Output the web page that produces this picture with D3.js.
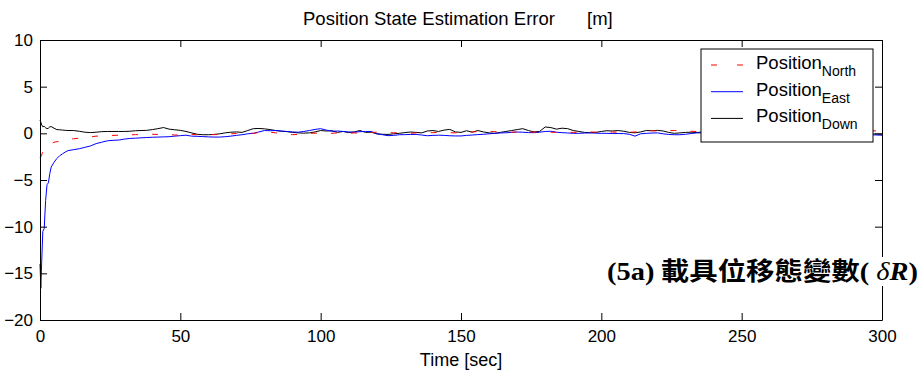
<!DOCTYPE html>
<html><head><meta charset="utf-8">
<script src="https://cdn.jsdelivr.net/npm/d3@7"></script>
<style>
html,body{margin:0;padding:0;background:#fff;}
svg{display:block;}
text{font-family:"Liberation Sans",Arial,sans-serif;fill:#000;}
</style></head><body>
<svg id="chart" width="921" height="376"></svg>
<script>
const timeSec = [0,0.3,0.6,1,1.5,2,2.5,3,3.5,4,5,6,7,8,9,10,
 12,14,16,18,20,22,24,26,28,30,
 32,34,36,38,40,42,44,46,48,50,
 52,54,56,58,60,62,64,66,68,70,
 72,74,76,78,80,82,84,86,88,90,
 92,94,96,98,100,102,104,106,108,110,
 112,114,116,118,120,122,124,126,128,130,
 132,134,136,138,140,142,144,146,148,150,
 152,154,156,158,160,162,164,166,168,170,
 172,174,176,178,180,182,184,186,188,190,
 192,194,196,198,200,202,204,206,208,210,
 212,214,216,218,220,222,224,226,228,230,
 232,234,236,238,240,242,244,246,248,250,
 252,254,256,258,260,262,264,266,268,270,
 272,274,276,278,280,282,284,286,288,290,
 292,294,296,298,300];

const posNorth = [-2.6,-2.5,-2.3,-2.0,-1.8,-1.6,-1.45,-1.3,-1.2,-1.1,-0.95,-0.9,-0.85,-0.8,-0.7,-0.62,
 -0.58,-0.52,-0.45,-0.38,-0.3,-0.28,-0.25,-0.22,-0.2,-0.18,
 -0.16,-0.14,-0.14,-0.12,-0.1,-0.12,-0.14,-0.12,-0.18,-0.2,
 0.05,-0.1,-0.15,-0.14,-0.12,-0.14,-0.12,-0.1,-0.05,-0.02,
 0.0,0.02,0.0,0.08,0.14,0.12,0.05,-0.05,-0.1,-0.14,
 -0.12,-0.05,0.0,0.02,0.0,0.02,0.0,0.05,0.02,0.0,
 0.05,0.0,0.05,0.1,0.12,0.14,0.1,0.05,0.07,0.05,
 0.0,0.05,0.07,0.05,0.07,0.1,0.05,0.07,0.05,0.07,
 0.1,0.15,0.2,0.25,0.2,0.18,0.15,0.14,0.12,0.14,
 0.15,0.14,0.12,0.14,0.1,0.12,0.1,0.14,0.12,0.1,
 0.12,0.14,0.15,0.12,0.1,0.12,0.14,0.12,0.1,0.12,
 0.14,0.2,0.3,0.28,0.25,0.28,0.3,0.3,0.28,0.25,
 0.22,0.2,0.22,0.25,0.2,0.18,0.22,0.25,0.2,0.15,
 0.12,0.15,0.2,0.22,0.18,0.15,0.2,0.25,0.22,0.18,
 0.2,0.25,0.3,0.28,0.25,0.3,0.32,0.35,0.3,0.28,
 0.3,0.35,0.3,0.25,0.2];

const posEast = [-14,-16.6,-13.8,-10.5,-10.2,-7.2,-5.5,-5.3,-4.3,-3.6,-3.1,-2.7,-2.4,-2.2,-2.0,-1.85,
 -1.75,-1.65,-1.5,-1.35,-1.1,-0.95,-0.8,-0.75,-0.72,-0.62,
 -0.55,-0.52,-0.48,-0.45,-0.42,-0.4,-0.38,-0.36,-0.3,-0.25,
 -0.2,-0.3,-0.32,-0.35,-0.38,-0.4,-0.4,-0.36,-0.3,-0.22,
 -0.15,-0.05,0.0,0.15,0.3,0.28,0.3,0.25,0.2,0.15,
 0.12,0.2,0.3,0.42,0.5,0.35,0.22,0.25,0.2,0.15,
 0.12,0.18,0.2,0.2,-0.05,-0.15,-0.25,-0.22,-0.15,-0.14,
 -0.12,-0.12,-0.18,-0.26,-0.22,-0.2,-0.22,-0.26,-0.28,-0.28,
 -0.22,-0.18,-0.14,-0.1,-0.05,0.0,0.04,0.06,0.1,0.14,
 0.12,0.08,0.07,0.12,0.2,0.22,0.12,0.07,0.04,0.0,
 0.0,0.03,0.05,0.02,0.0,0.0,-0.02,-0.02,-0.03,-0.1,
 -0.3,-0.05,0.0,0.03,0.05,-0.05,-0.12,-0.15,-0.15,-0.1,
 -0.02,0.05,0.05,0.0,-0.05,-0.1,-0.08,-0.02,0.02,0.0,
 -0.05,-0.1,-0.12,-0.08,-0.02,0.03,0.0,-0.06,-0.1,-0.08,
 -0.04,0.0,-0.03,-0.08,-0.12,-0.1,-0.05,-0.08,-0.12,-0.14,
 -0.12,-0.1,-0.15,-0.18,-0.2];

const posDown = [1.4,1.2,0.9,0.7,0.75,0.6,0.5,0.55,0.7,0.72,0.55,0.4,0.38,0.35,0.32,0.3,
 0.3,0.22,0.12,0.08,0.12,0.18,0.2,0.2,0.2,0.2,
 0.22,0.28,0.3,0.32,0.4,0.5,0.62,0.45,0.38,0.32,
 0.2,0.05,-0.1,-0.15,-0.15,-0.12,-0.05,0.05,0.12,0.15,
 0.1,0.3,0.5,0.52,0.48,0.4,0.3,0.22,0.18,0.1,
 0.05,0.02,0.05,0.15,0.3,0.25,0.28,0.1,0.2,0.08,
 0.15,0.3,0.1,0.12,-0.05,-0.1,-0.12,-0.05,0.0,0.08,
 0.14,0.1,0.05,0.25,0.3,0.2,0.35,0.42,0.15,0.1,
 0.28,0.12,0.3,0.15,0.05,0.0,0.1,0.2,0.3,0.4,
 0.5,0.3,0.15,0.2,0.68,0.62,0.45,0.55,0.5,0.3,
 0.2,0.1,0.07,0.1,0.2,0.28,0.25,0.3,0.22,0.1,
 0.05,0.15,0.3,0.28,0.32,0.25,0.1,0.0,0.05,0.1,
 0.12,0.08,0.15,0.2,0.1,0.05,0.12,0.18,0.1,0.02,
 0.0,0.08,0.15,0.1,0.05,0.12,0.2,0.15,0.05,0.0,
 0.05,0.1,0.08,0.02,-0.02,0.05,0.1,0.05,0.0,-0.05,
 -0.02,0.0,-0.05,-0.08,-0.1];

const xTicks = [0,50,100,150,200,250,300];
const yTicks = [10,5,0,-5,-10,-15,-20];
const legendMain = "Position";
const legendSubs = ["North","East","Down"];
const titleMain = "Position State Estimation Error";
const titleUnit = "[m]";
const xLabel = "Time [sec]";

const svg = d3.select("#chart");
const pL = 40, pR = 882, pT = 40, pB = 320;
const x = d3.scaleLinear().domain([0,300]).range([pL,pR]);
const y = d3.scaleLinear().domain([-20,10]).range([pB,pT]);

const lineOf = vals => d3.line().x((d,i)=>x(timeSec[i])).y(d=>y(d))(vals);
const series = [
  {vals: posDown, color:"#000000", dash:null},
  {vals: posEast, color:"#0000ff", dash:null},
  {vals: posNorth, color:"#ff0000", dash:"6,14"}
];
const plot = svg.append("g");
series.forEach(s=>{
  plot.append("path").attr("d", lineOf(s.vals)).attr("fill","none")
    .attr("stroke", s.color).attr("stroke-width",1)
    .attr("stroke-dasharray", s.dash);
});

function styleAxis(g){
  g.selectAll("path.domain").attr("stroke","#000").attr("stroke-width",1);
  g.selectAll(".tick line").attr("stroke","#000").attr("stroke-width",1);
  g.selectAll(".tick text").attr("font-family","'Liberation Sans',Arial,sans-serif").attr("font-size",17).attr("fill","#000");
}
svg.append("g").attr("transform",`translate(0,${pB})`)
  .call(d3.axisBottom(x).tickValues(xTicks).tickSizeInner(-7).tickSizeOuter(0).tickPadding(10))
  .call(styleAxis);
svg.append("g").attr("transform",`translate(0,${pT})`)
  .call(d3.axisTop(x).tickValues(xTicks).tickSizeInner(-7).tickSizeOuter(0).tickFormat(""))
  .call(styleAxis);
svg.append("g").attr("transform",`translate(${pL},0)`)
  .call(d3.axisLeft(y).tickValues(yTicks).tickSizeInner(-7).tickSizeOuter(0).tickPadding(7))
  .call(styleAxis);
svg.append("g").attr("transform",`translate(${pR},0)`)
  .call(d3.axisRight(y).tickValues(yTicks).tickSizeInner(-7).tickSizeOuter(0).tickFormat(""))
  .call(styleAxis);

svg.append("text").attr("x",303).attr("y",25).attr("font-size",18.5).text(titleMain);
svg.append("text").attr("x",587).attr("y",25).attr("font-size",18.5).text(titleUnit);
svg.append("text").attr("x",461).attr("y",366).attr("text-anchor","middle").attr("font-size",18).text(xLabel);

const lg = svg.append("g");
lg.append("rect").attr("x",701).attr("y",49).attr("width",172).attr("height",93)
  .attr("fill","#fff").attr("stroke","#000").attr("stroke-width",1);
const rows = [
  {sub: legendSubs[0], color:"#ff0000", dash:"6,20"},
  {sub: legendSubs[1], color:"#0000ff", dash:null},
  {sub: legendSubs[2], color:"#000000", dash:null}
];
rows.forEach((r,i)=>{
  const by = 69 + i*26.7;
  lg.append("line").attr("x1",711).attr("x2",743).attr("y1",by-4).attr("y2",by-4)
    .attr("stroke",r.color).attr("stroke-width",1).attr("stroke-dasharray",r.dash);
  const t = lg.append("text").attr("x",756).attr("y",by).attr("font-size",18.5);
  t.append("tspan").text(legendMain);
  t.append("tspan").attr("dy",7).attr("font-size",14).text(r.sub);
});

svg.append("rect").attr("x",603).attr("y",257).attr("width",318).attr("height",29).attr("fill","#fff");
const ann = svg.append("text").attr("x",607).attr("y",280).attr("font-size",25)
  .attr("textLength",311).attr("lengthAdjust","spacingAndGlyphs");
ann.append("tspan").attr("font-family","'Liberation Serif','Times New Roman',serif").attr("font-weight","bold").text("(5a)");
ann.append("tspan").attr("font-family","'Noto Sans CJK TC','Noto Sans CJK SC',sans-serif").attr("font-weight","bold").text("\u00a0載具位移態變數");
ann.append("tspan").attr("font-family","'Liberation Serif','Times New Roman',serif").attr("font-weight","bold").text("(\u00a0");
ann.append("tspan").attr("font-family","'Liberation Serif','Times New Roman',serif").attr("font-style","italic").text("δ");
ann.append("tspan").attr("font-family","'Liberation Serif','Times New Roman',serif").attr("font-style","italic").attr("font-weight","bold").text("R");
ann.append("tspan").attr("font-family","'Liberation Serif','Times New Roman',serif").attr("font-weight","bold").text(")");
</script>
</body></html>
